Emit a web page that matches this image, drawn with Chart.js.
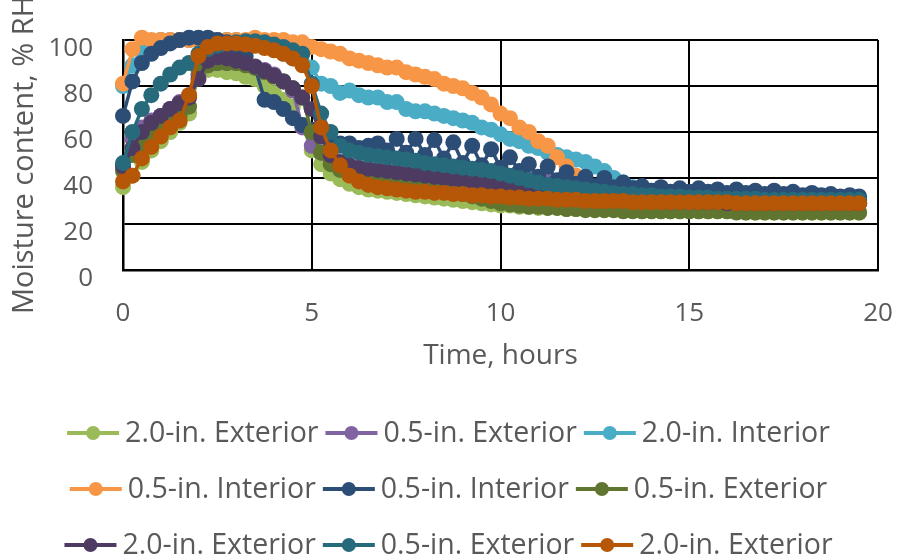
<!DOCTYPE html>
<html>
<head>
<meta charset="utf-8">
<script src="https://cdn.jsdelivr.net/npm/chart.js@4.4.1/dist/chart.umd.min.js"></script>
<style>
  html, body { margin: 0; padding: 0; background: #fff; }
  #wrap { width: 897px; height: 557px; position: relative; }
</style>
</head>
<body>
<div id="wrap"><canvas id="moisture-chart"></canvas></div>
<script>
// sensor readings every quarter hour
const hours = [
  0, 0.25, 0.5, 0.75, 1, 1.25, 1.5, 1.75, 2, 2.25, 2.5, 2.75, 3, 3.25, 3.5, 3.75, 4, 4.25, 4.5, 4.75,
  5, 5.25, 5.5, 5.75, 6, 6.25, 6.5, 6.75, 7, 7.25, 7.5, 7.75, 8, 8.25, 8.5, 8.75, 9, 9.25, 9.5, 9.75,
  10, 10.25, 10.5, 10.75, 11, 11.25, 11.5, 11.75, 12, 12.25, 12.5, 12.75, 13, 13.25, 13.5, 13.75, 14, 14.25, 14.5, 14.75,
  15, 15.25, 15.5, 15.75, 16, 16.25, 16.5, 16.75, 17, 17.25, 17.5, 17.75, 18, 18.25, 18.5, 18.75, 19, 19.25, 19.5
];

const seriesNames = [
  "2.0-in. Exterior", "0.5-in. Exterior", "2.0-in. Interior",
  "0.5-in. Interior", "0.5-in. Interior", "0.5-in. Exterior",
  "2.0-in. Exterior", "0.5-in. Exterior", "2.0-in. Exterior"
];

const seriesColors = [
  "#9BBB59", "#8064A2", "#4BACC6",
  "#F79646", "#2C4D75", "#5F7530",
  "#4D3B62", "#276A7C", "#B65708"
];

const ext20a = [
  36, 41, 47, 52, 56, 60, 64, 68, 85, 87, 87, 86, 85.5, 84, 83, 80, 77, 74, 71, 63,
  52, 46, 42, 39.5, 37.5, 36, 35, 34.5, 34, 33.5, 33, 32.5, 32, 31.5, 31, 30.5, 30, 29.5, 29, 28.5,
  28, 28, 27.5, 27.5, 27, 27, 27, 26.5, 26.5, 26.5, 26, 26, 26, 26, 26, 25.5, 25.5, 25.5, 25.5, 25.5,
  25.5, 25.5, 25.5, 25.5, 25.5, 25.5, 25, 25, 25, 25, 25, 25, 25, 25, 25, 25, 25, 25, 25
];
const ext05a = [
  45, 57, 62, 65, 67, 70, 73, 76, 85, 89, 90, 90, 90, 89, 88, 87, 85, 82, 78, 62,
  54, 51, 48, 46, 45, 44, 43.5, 43, 42.5, 42, 41.5, 41.5, 41, 41, 40.5, 40.5, 40, 40, 40, 40,
  40, 40, 39.5, 39.5, 39, 38.5, 38, 37.5, 36.5, 35.5, 34.5, 34, 33.5, 33, 32.5, 32, 31.5, 31.5, 31, 31,
  30.5, 30.5, 30, 30, 30, 30, 30, 29.5, 29.5, 29.5, 29.5, 29.5, 29.5, 29, 29, 29, 29, 29, 29
];
const int20a = [
  80, 89, 96, 99, 100, 100, 100, 100, 100, 100, 100, 100, 100, 99, 98, 97, 96, 94, 92, 90,
  88, 81, 80, 77, 78, 76, 75, 75, 73, 73, 70, 69, 69, 68, 67, 66, 65, 64, 62, 61,
  59, 57, 56, 54, 53, 51, 50, 49, 48, 47, 45, 43, 40, 38, 36, 35, 34.5, 34, 33.5, 33,
  33, 32.5, 32.5, 32, 32, 32, 31.5, 31.5, 31.5, 31, 31, 31, 31, 30.5, 30.5, 30.5, 30.5, 30.5, 30
];
const int05a = [
  81, 96, 101, 100, 100, 100, 100, 100, 100, 100, 100, 100, 100, 100, 101, 100, 100, 100, 99, 99,
  97, 96, 95, 94, 92, 91, 90, 89, 88, 88, 86, 85, 84, 83, 81, 80, 79, 77, 75, 72,
  68, 66, 62, 60, 56, 54, 49, 45, 41, 38, 36, 35, 34.5, 34, 33.5, 33, 32.5, 32, 32, 31.5,
  31.5, 31, 31, 31, 30.5, 30.5, 30.5, 30.5, 30, 30, 30, 30, 30, 30, 29.5, 29.5, 29.5, 29.5, 29.5
];
const int05b = [
  67, 82, 90, 94, 96.5, 98.5, 100, 101, 101, 101, 100, 99, 97, 93, 88, 74, 73, 70, 66, 63,
  61, 58, 56, 55, 55, 53, 54, 55, 52, 57, 51, 57, 50, 56.5, 48.5, 55.5, 46.5, 54, 45.5, 52.5,
  44.5, 49, 43, 46, 40.5, 45, 39, 42.5, 37.5, 40.5, 36.5, 40, 36, 38, 35.5, 36.5, 34.5, 36, 34, 35.5,
  34, 35.5, 34, 35, 33.5, 35, 33.5, 34.5, 33, 34.5, 33, 34, 32.5, 33.5, 32.5, 33, 32, 32.5, 32
];
const ext05b = [
  43, 50, 55, 58, 61, 64, 67, 71, 87, 89, 90, 90, 90, 89, 88, 86, 84, 82, 79, 75,
  60, 51, 46, 43.5, 41.5, 40.5, 39.5, 39, 38.5, 38, 37.5, 37, 36.5, 36, 35, 34, 33, 32, 31, 30,
  29, 28.5, 28, 27.5, 27.5, 27, 27, 26.5, 26.5, 26, 26, 26, 26, 25.5, 25.5, 25.5, 25.5, 25.5, 25.5, 25.5,
  25.5, 25.5, 25.5, 25.5, 25.5, 25, 25, 25, 25, 25, 25, 25, 25, 25, 25, 25, 25, 25, 25
];
const ext20b = [
  45, 53, 60, 64, 67, 70, 72.5, 75, 83, 91, 92.5, 92, 91, 90, 88.5, 86.5, 84.5, 82, 79, 75,
  70, 58, 50, 47, 45.5, 44.5, 44, 43.5, 43, 42.5, 42, 41.5, 41, 40.5, 40, 39.5, 39, 38.5, 38, 37.5,
  37, 36, 35.5, 35, 34.5, 34, 33.5, 33, 32.5, 32, 31.5, 31, 31, 30.5, 30.5, 30, 30, 30, 29.5, 29.5,
  29.5, 29.5, 29.5, 29.5, 29, 29, 29, 29, 29, 29, 29, 29, 29, 29, 29, 29, 29, 29, 29
];
const ext05c = [
  46.5, 60, 70, 76, 81, 85, 88, 90, 94, 96, 97.5, 98.5, 99, 99.5, 99.5, 99, 98, 97, 95.5, 94,
  81, 68, 60, 54, 52, 51, 50, 49.5, 49, 48.5, 48, 47.5, 46.5, 46, 45.5, 45, 44.5, 44, 43.5, 43,
  42, 41, 40, 39, 38, 37, 36.5, 36, 35.5, 35, 34.5, 34, 33.5, 33, 33, 32.5, 32.5, 32, 32, 32,
  31.5, 31.5, 31.5, 31, 31, 31, 31, 31, 30.5, 30.5, 30.5, 30.5, 30.5, 30.5, 30.5, 30.5, 30.5, 30.5, 30.5
];
const ext20c = [
  38.5, 41, 48.5, 53.5, 58, 62, 65, 76, 93, 97, 98.5, 98.5, 98.5, 98, 97.5, 96.5, 95.5, 94, 92, 89,
  80, 62, 52, 45.5, 41, 38.5, 37, 36, 35.5, 35, 34.5, 34, 34, 33.5, 33.5, 33, 33, 32.5, 32.5, 32,
  32, 31.5, 31.5, 31, 31, 31, 30.5, 30.5, 30.5, 30, 30, 30, 30, 30, 29.5, 29.5, 29.5, 29.5, 29.5, 29.5,
  29.5, 29.5, 29.5, 29.5, 29.5, 29, 29, 29, 29, 29, 29, 29, 29, 29, 29, 29, 29, 29, 29
];

const seriesValues = [ext20a, ext05a, int20a, int05a, int05b, ext05b, ext20b, ext05c, ext20c];

const xTicks = [0, 5, 10, 15, 20];
const yTicks = [0, 20, 40, 60, 80, 100];

Chart.defaults.font.family = "'Open Sans', sans-serif";
Chart.defaults.color = "#595959";

// legend swatch: short line with a dot in the middle
const legendMarks = {
  id: "legendMarks",
  afterDraw: function (chart) {
    const legend = chart.legend;
    const c = chart.ctx;
    legend.legendItems.forEach(function (item, i) {
      const box = legend.legendHitBoxes[i];
      const color = seriesColors[item.datasetIndex];
      const y = box.top + box.height / 2 - 1;
      const x0 = box.left;
      const x1 = box.left + 52;
      c.save();
      c.strokeStyle = color;
      c.lineWidth = 4;
      c.beginPath();
      c.moveTo(x0, y);
      c.lineTo(x1, y);
      c.stroke();
      c.fillStyle = color;
      c.beginPath();
      c.arc((x0 + x1) / 2, y, 7, 0, Math.PI * 2);
      c.fill();
      c.restore();
    });
  }
};

const ctx = document.getElementById("moisture-chart");
const moistureChart = new Chart(ctx, {
  type: "scatter",
  data: {
    datasets: seriesNames.map(function (name, i) {
      return {
        label: name,
        data: hours.map(function (h, k) { return { x: h, y: seriesValues[i][k] }; }),
        showLine: true,
        borderColor: seriesColors[i],
        backgroundColor: seriesColors[i],
        pointBackgroundColor: seriesColors[i],
        borderWidth: 3.5,
        pointRadius: 8,
        pointHoverRadius: 8,
        pointBorderWidth: 0,
        clip: false,
        order: -i
      };
    })
  },
  options: {
    responsive: true,
    maintainAspectRatio: false,
    animation: false,
    layout: { padding: { top: 40, right: 0, bottom: -23.5, left: 0 } },
    plugins: {
      tooltip: { enabled: false },
      legend: {
        position: "bottom",
        labels: {
          boxWidth: 43.75,
          boxHeight: 49,
          padding: 7,
          color: "#595959",
          font: { size: 28.5 },
          generateLabels: function (chart) {
            return chart.data.datasets.map(function (ds, i) {
              return {
                text: ds.label,
                fillStyle: "rgba(0,0,0,0)",
                strokeStyle: "rgba(0,0,0,0)",
                lineWidth: 0,
                fontColor: "#595959",
                hidden: false,
                datasetIndex: i
              };
            });
          }
        }
      }
    },
    scales: {
      x: {
        type: "linear",
        min: xTicks[0],
        max: xTicks[xTicks.length - 1],
        afterBuildTicks: function (scale) {
          scale.ticks = xTicks.map(function (v) { return { value: v }; });
        },
        afterFit: function (scale) {
          scale.height = 132.5;
          scale.paddingLeft = 0;
          scale.paddingRight = 19;
        },
        ticks: { padding: 28, font: { size: 26 }, color: "#595959" },
        grid: { color: "#000", lineWidth: 2, drawTicks: false },
        border: { color: "#000", width: 2.5 },
        title: {
          display: true,
          text: "Time, hours",
          color: "#595959",
          font: { size: 28 },
          padding: { top: 0, bottom: 30 }
        }
      },
      y: {
        min: yTicks[0],
        max: yTicks[yTicks.length - 1],
        afterBuildTicks: function (scale) {
          scale.ticks = yTicks.map(function (v) { return { value: v }; });
        },
        afterFit: function (scale) {
          scale.width = 123;
          scale.paddingTop = 0;
          scale.paddingBottom = 0;
        },
        ticks: { padding: 30, labelOffset: 9, font: { size: 26 }, color: "#595959" },
        grid: { color: "#000", lineWidth: 2, drawTicks: false },
        border: { color: "#000", width: 2.5 },
        title: {
          display: true,
          text: "Moisture content, % RH",
          color: "#595959",
          font: { size: 29 },
          padding: { top: 7, bottom: 0 }
        }
      }
    }
  },
  plugins: [legendMarks]
});
</script>
</body>
</html>
